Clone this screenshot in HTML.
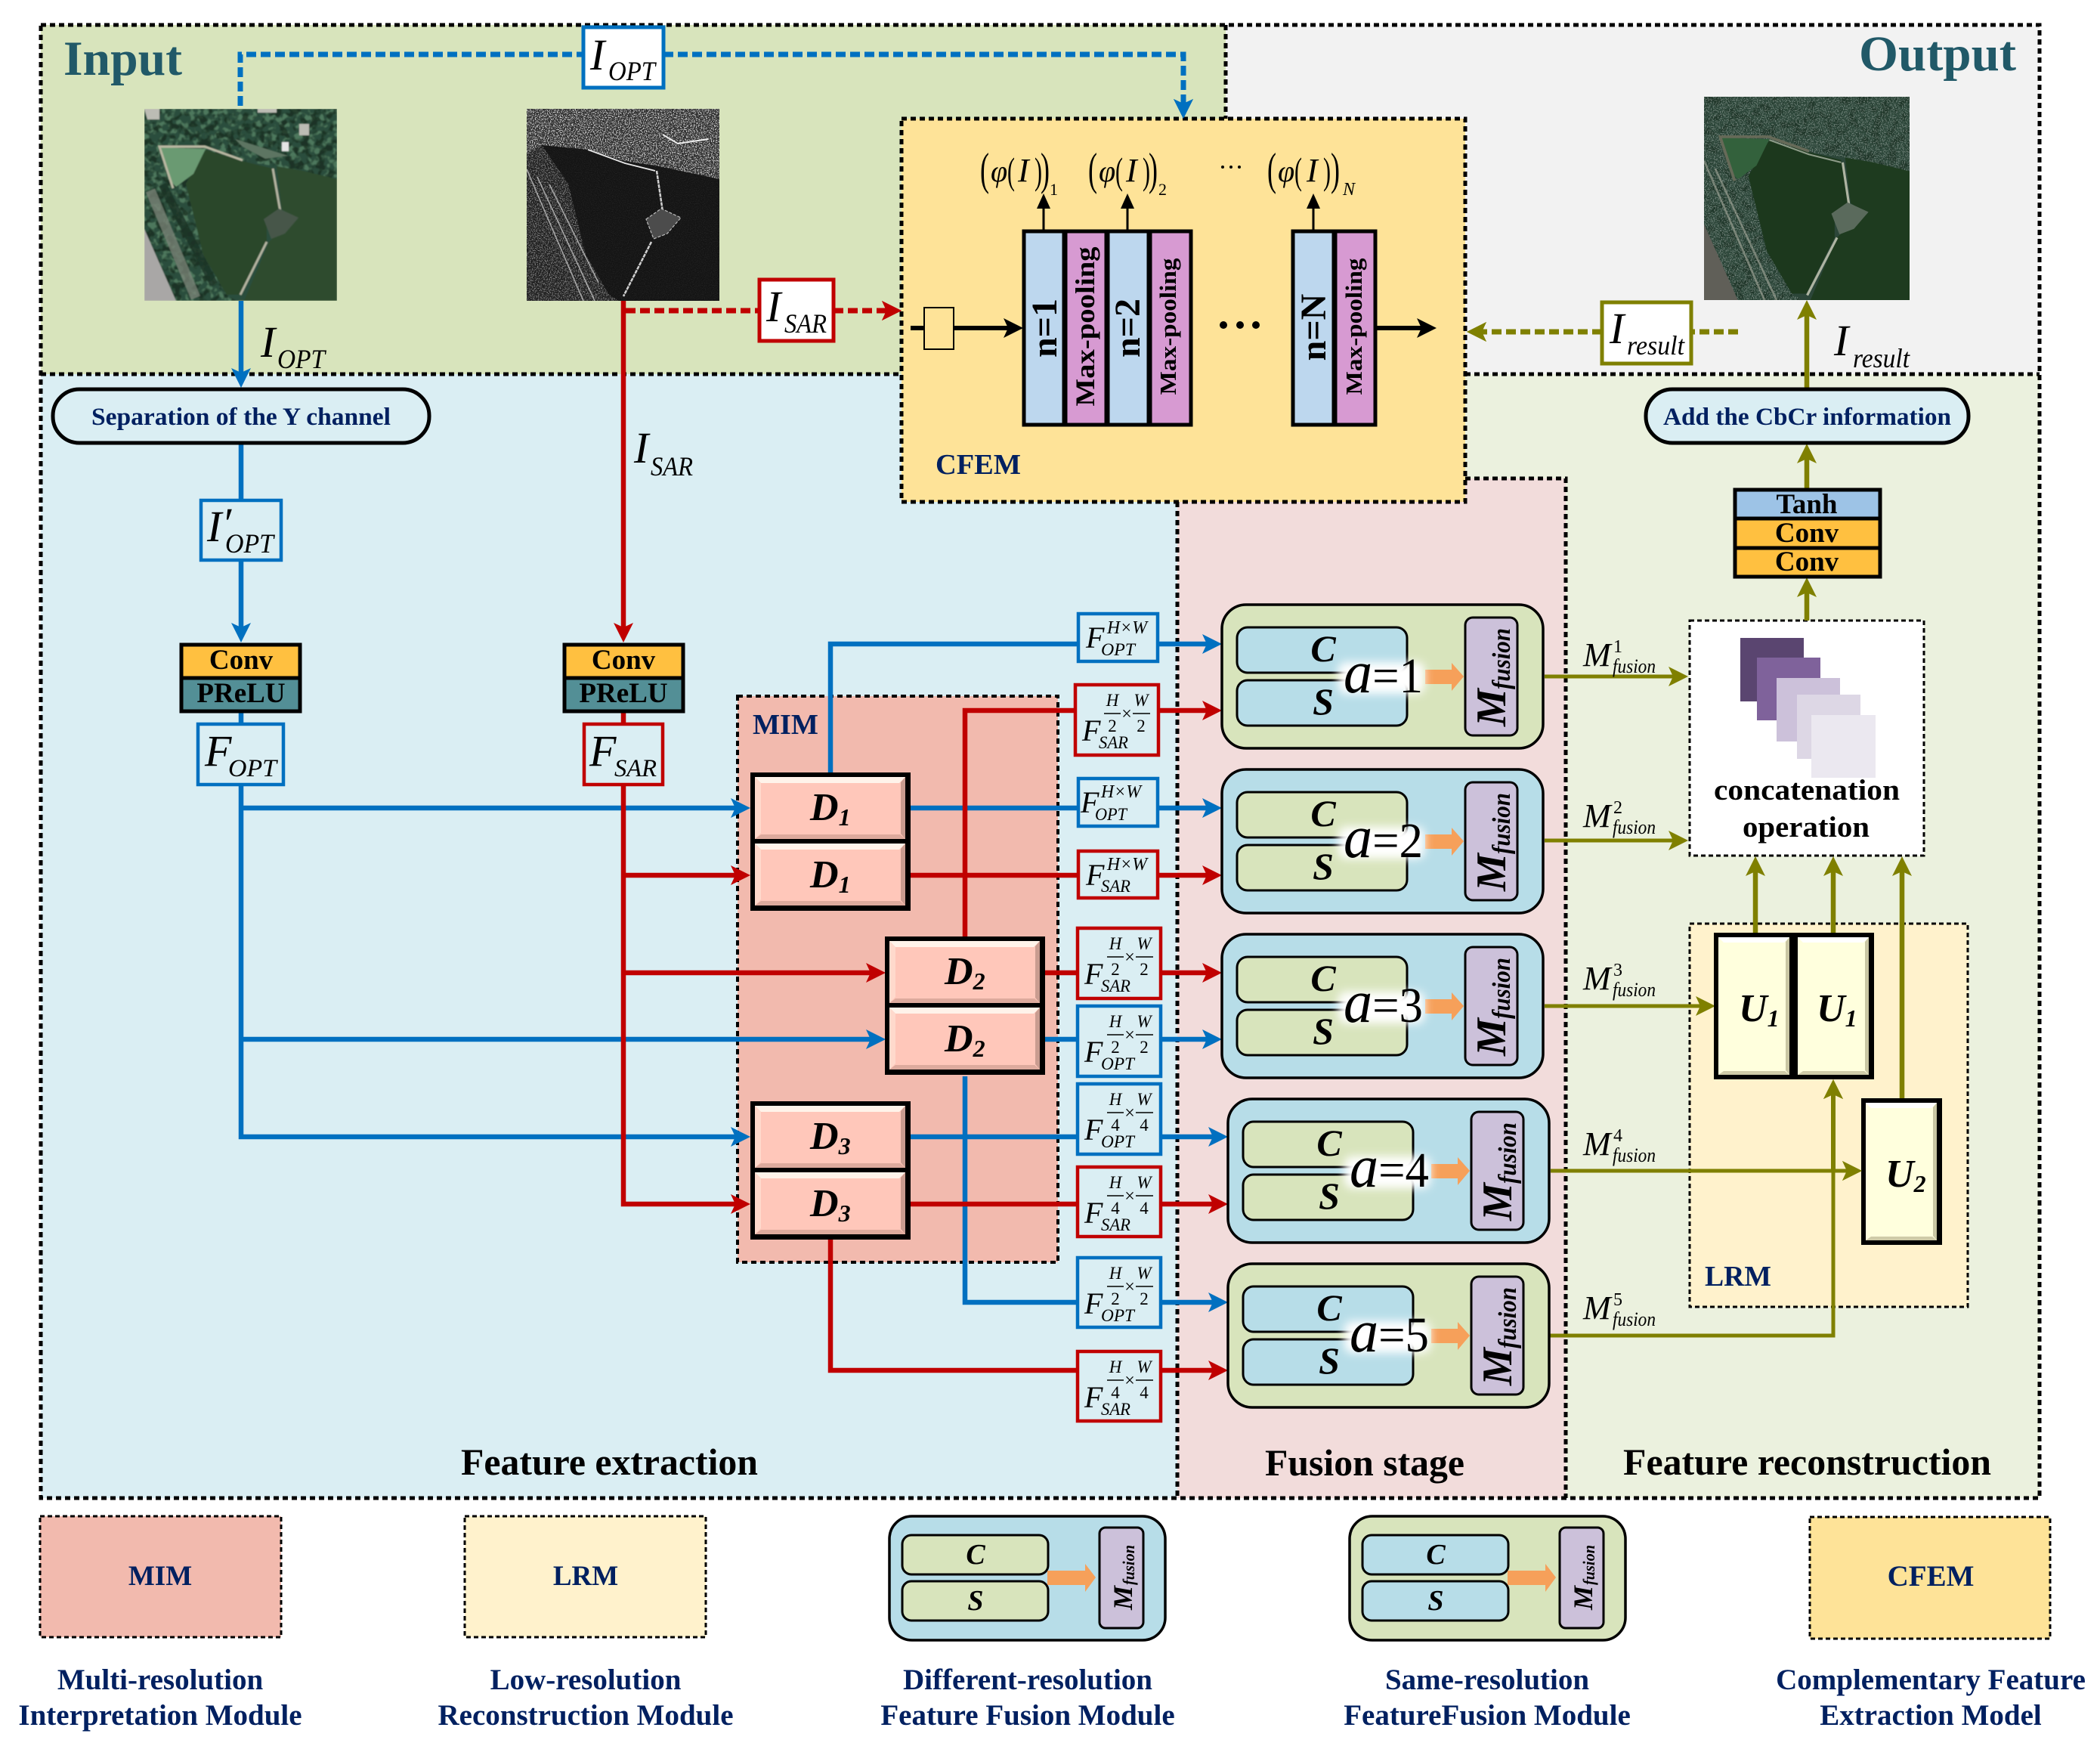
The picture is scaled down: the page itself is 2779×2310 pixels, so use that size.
<!DOCTYPE html>
<html lang="en"><head><meta charset="utf-8"><title>Network architecture</title>
<style>
html,body{margin:0;padding:0;background:#fff}
svg{display:block}
text{font-family:"Liberation Serif",serif;fill:#000}
.b{font-weight:bold}.i{font-style:italic}.bi{font-weight:bold;font-style:italic}
.n{fill:#002060;font-weight:bold}.t{fill:#215968;font-weight:bold}
.m{text-anchor:middle}
.bd{fill:none;stroke:#000;stroke-width:5;stroke-dasharray:7 5}
.thin{fill:none;stroke:#000;stroke-width:3;stroke-dasharray:6 4}
.bl{fill:none;stroke:#0070C0;stroke-width:6.5}
.rd{fill:none;stroke:#C00000;stroke-width:6.5}
.ol{fill:none;stroke:#7F8000;stroke-width:6.5}
.bk{fill:none;stroke:#000;stroke-width:6}
.fb{fill:#DAEEF3;stroke:#0070C0;stroke-width:4.5}
.fr{fill:#DAEEF3;stroke:#C00000;stroke-width:4.5}
.fl{stroke:#000;stroke-width:1.5;fill:none}
</style></head><body>
<svg xmlns="http://www.w3.org/2000/svg" width="2779" height="2310" viewBox="0 0 2779 2310">
<defs>
<path id="ah" d="M0 0L-26-13-20 0-26 13z"/>
<filter id="spk" x="0" y="0" width="1" height="1" color-interpolation-filters="sRGB"><feTurbulence type="fractalNoise" baseFrequency=".7" numOctaves="2" seed="3"/><feColorMatrix values="0 0 0 0 1 0 0 0 0 1 0 0 0 0 1 10 0 0 0 -5.2"/></filter>
<filter id="spd" x="0" y="0" width="1" height="1" color-interpolation-filters="sRGB"><feTurbulence type="fractalNoise" baseFrequency=".1" numOctaves="2" seed="8"/><feColorMatrix values="0 0 0 0 .08 0 0 0 0 .16 0 0 0 0 .11 7 0 0 0 -3.4"/></filter>
<filter id="spl" x="0" y="0" width="1" height="1" color-interpolation-filters="sRGB"><feTurbulence type="fractalNoise" baseFrequency=".12" numOctaves="2" seed="21"/><feColorMatrix values="0 0 0 0 .4 0 0 0 0 .58 0 0 0 0 .45 7 0 0 0 -3.5"/></filter>
<filter id="fin" x="0" y="0" width="1" height="1" color-interpolation-filters="sRGB"><feTurbulence type="fractalNoise" baseFrequency=".9" numOctaves="1" seed="5"/><feColorMatrix values="0 0 0 0 1 0 0 0 0 1 0 0 0 0 1 1.6 0 0 0 -.72"/></filter>
<filter id="glow" x="-30%" y="-60%" width="160%" height="220%"><feGaussianBlur stdDeviation="6"/></filter>
<filter id="soft" x="-2%" y="-2%" width="104%" height="104%"><feGaussianBlur stdDeviation=".9"/></filter>
<clipPath id="land"><path d="M0 0H255V93L175 76 129 69 81 54 55 99 78 193 109 246 122 254H0Z"/></clipPath>
<clipPath id="band"><path d="M0 0H255V93L175 76 129 69 81 54 20 48 0 60Z"/></clipPath>
<clipPath id="strip"><path d="M0 60L20 48 55 99 78 193 109 246 122 254H0Z"/></clipPath>
<path id="lakeL" d="M81 54L129 69 170 79 180 136 162 156 162 176 127 246 109 246 78 193 55 99Z"/>
<path id="lakeR" d="M175 76L210 82 255 93V254H132L165 176 182 159 203 146 182 133Z"/>
<g id="dbev">
<rect width="199" height="82" fill="#FFC7BA"/>
<path d="M0 0H199L191 8H8Z" fill="#FFF3EA"/><path d="M0 0L8 8V74L0 82Z" fill="#FFD9CC"/>
<path d="M199 0V82L193 75V7Z" fill="#C99C90"/><path d="M0 82H199L192 76H8Z" fill="#DDAA9D"/>
</g>
<g id="D"><rect width="212" height="183" fill="#000"/><use href="#dbev" x="6" y="6"/><use href="#dbev" x="6" y="94"/></g>
<g id="U"><rect width="107" height="194" fill="#000"/><rect x="6" y="6" width="94" height="182" fill="#FFFFDD"/>
<path d="M6 6H100L93 13H13Z" fill="#fff"/><path d="M100 6V188L95 182V12Z" fill="#C9C6A3"/><path d="M6 188H100L94 183H13Z" fill="#CFCBA8"/></g>
</defs>

<!-- regions -->
<rect x="54" y="33" width="1568" height="462" fill="#D8E4BC"/>
<rect x="1622" y="33" width="1077" height="462" fill="#F2F2F2"/>
<rect x="54" y="495" width="1504" height="1487" fill="#DAEEF3"/>
<rect x="1558" y="633" width="514" height="1349" fill="#F2DCDB"/>
<path d="M1939 495H2699V1982H2072V633H1939Z" fill="#EBF1DE"/>
<rect x="976" y="921" width="424" height="749" fill="#F2BAAE"/>
<rect x="2236" y="1222" width="369" height="507" fill="#FFF2CC"/>
<rect x="2236" y="821" width="310" height="311" fill="#fff"/>
<path class="bd" d="M54 33H2699V1982H54Z"/>
<path class="bd" d="M54 495H1193M1939 495H2699M1622 33V157M1558 664V1982M1939 633H2072V1982"/>
<text class="t" x="84" y="99" font-size="65" textLength="157" lengthAdjust="spacingAndGlyphs">Input</text>
<text class="t" x="2460" y="93" font-size="66" textLength="208" lengthAdjust="spacingAndGlyphs">Output</text>

<!-- optical image -->
<svg x="191" y="144" width="255" height="254" viewBox="0 0 255 254" preserveAspectRatio="none">
<g filter="url(#soft)">
<rect width="255" height="254" fill="#2c4e3c"/>
<rect width="255" height="254" filter="url(#spl)" opacity=".6" clip-path="url(#land)"/>
<rect width="255" height="254" filter="url(#spd)" opacity=".7" clip-path="url(#land)"/>
<path d="M8 108L68 250" stroke="#7d8679" stroke-width="13" fill="none" opacity=".75"/>
<path d="M24 100L92 232" stroke="#1d3326" stroke-width="11" fill="none" opacity=".8"/>
<path d="M0 159L42 254H0Z" fill="#a9a7a6"/>
<use href="#lakeL" fill="#29462a"/><use href="#lakeR" fill="#2d4c2d"/>
<path d="M22 51L81 53 65 86 42 103 32 93Z" fill="#6a9a72"/>
<path d="M38 105L20 50 80 50 130 68" fill="none" stroke="#b9b8a2" stroke-width="3"/>
<path d="M170 79L180 136M162 176L127 246" fill="none" stroke="#b3b4a0" stroke-width="3"/>
<path d="M158 146L178 132 204 144 186 165 168 172Z" fill="#46564a"/>
<path d="M0 0H20V14H4ZM205 20H218V35H205ZM150 0H175V5H150Z" fill="#bcbcb4"/>
<rect x="182" y="44" width="9" height="12" fill="#e5e5e5"/>
<path d="M120 40L190 62 160 66 130 50Z" fill="#5d7562"/>
</g>
</svg>

<!-- SAR image -->
<svg x="697" y="144" width="255" height="254" viewBox="0 0 255 254" preserveAspectRatio="none">
<rect width="255" height="254" fill="#141414"/>
<g clip-path="url(#band)"><rect width="255" height="254" fill="#2e2e2e"/><rect width="255" height="254" filter="url(#spk)" opacity=".75"/></g>
<g clip-path="url(#strip)"><rect width="255" height="254" fill="#1e1e1e"/><rect width="255" height="254" filter="url(#spk)" opacity=".4"/></g>
<rect width="255" height="254" filter="url(#fin)" opacity=".14"/>
<path d="M0 80L75 254M14 90L90 254M30 100L75 190 95 230" fill="none" stroke="#c9c9c9" stroke-width="1.6" opacity=".75"/>
<path d="M81 54L130 72 170 82" fill="none" stroke="#e8e8e8" stroke-width="1.8"/>
<path d="M172 82L180 136M165 176L128 248" fill="none" stroke="#cfcfcf" stroke-width="2.5" stroke-dasharray="5 1"/>
<path d="M158 146L178 132 204 144 186 165 168 172Z" fill="#4c4c4c" stroke="#bbb" stroke-width="1.2" stroke-dasharray="4 2"/>
<path d="M180 34L200 46 240 40" fill="none" stroke="#eee" stroke-width="2"/>
</svg>

<!-- output image -->
<svg x="2255" y="128" width="272" height="269" viewBox="0 0 255 254" preserveAspectRatio="none">
<rect width="255" height="254" fill="#2c4639"/>
<g clip-path="url(#land)"><rect width="255" height="254" filter="url(#spd)" opacity=".5"/><rect width="255" height="254" filter="url(#spk)" opacity=".3"/></g>
<path d="M0 159L42 254H0Z" fill="#605f58"/>
<use href="#lakeL" fill="#1c381d"/><use href="#lakeR" fill="#1e3b1f"/>
<path d="M22 51L81 53 65 86 42 103 32 93Z" fill="#33613c"/>
<path d="M38 105L20 50 80 50 130 68" fill="none" stroke="#666a58" stroke-width="3.5"/>
<path d="M81 54L130 72 170 82" fill="none" stroke="#8d9b88" stroke-width="2"/>
<path d="M0 80L75 254M14 90L90 254" fill="none" stroke="#a7aa9c" stroke-width="2.5" opacity=".6"/>
<path d="M172 82L180 136M165 176L128 248" fill="none" stroke="#aeb4a2" stroke-width="3"/>
<path d="M158 146L178 132 204 144 186 165 168 172Z" fill="#5a6a5c"/>
</svg>

<!-- MIM / LRM / concat dashed -->
<rect class="bd" x="976" y="921" width="424" height="749" style="stroke-width:4"/>
<rect class="thin" x="2236" y="1222" width="368" height="507"/>
<rect class="thin" x="2236" y="821" width="310" height="311"/>
<text class="n" x="996" y="971" font-size="38" textLength="87" lengthAdjust="spacingAndGlyphs">MIM</text>
<text class="n" x="2256" y="1701" font-size="38" textLength="88" lengthAdjust="spacingAndGlyphs">LRM</text>

<!-- blue connectors -->
<path class="bl" d="M319 398V495M319 586V662M319 741V830M319 943V957M319 1039V1504H975M319 1069H975M319 1375H1155"/>
<path class="bl" d="M1099 1022V852H1428M1532 852H1600M1204 1069H1428M1532 1069H1600M1382 1375H1426M1536 1375H1600M1204 1504H1426M1536 1504H1608M1277 1424V1723H1426M1536 1723H1608"/>
<path class="bl" style="stroke-width:7" stroke-dasharray="13 6" d="M318 140V72H772M878 72H1566V138"/>
<g fill="#0070C0">
<use href="#ah" transform="translate(319,513)rotate(90)"/><use href="#ah" transform="translate(319,850)rotate(90)"/>
<use href="#ah" transform="translate(1566,157)rotate(90)"/>
<use href="#ah" transform="translate(993,1069)"/><use href="#ah" transform="translate(1172,1375)"/><use href="#ah" transform="translate(993,1504)"/>
<use href="#ah" transform="translate(1617,852)"/><use href="#ah" transform="translate(1617,1069)"/><use href="#ah" transform="translate(1617,1375)"/>
<use href="#ah" transform="translate(1625,1504)"/><use href="#ah" transform="translate(1625,1723)"/>
</g>
<!-- red connectors -->
<path class="rd" d="M825 398V830M825 943V957M825 1039V1593H975M825 1158H975M825 1287H1155"/>
<path class="rd" d="M1277 1239V940H1422M1533 940H1600M1204 1158H1428M1532 1158H1600M1382 1287H1426M1536 1287H1600M1204 1593H1426M1536 1593H1608M1099 1640V1813H1426M1536 1813H1608"/>
<path class="rd" style="stroke-width:7" stroke-dasharray="13 6" d="M828 411H1005M1103 411H1175"/>
<g fill="#C00000">
<use href="#ah" transform="translate(825,850)rotate(90)"/><use href="#ah" transform="translate(1193,411)"/>
<use href="#ah" transform="translate(993,1158)"/><use href="#ah" transform="translate(1172,1287)"/><use href="#ah" transform="translate(993,1593)"/>
<use href="#ah" transform="translate(1617,940)"/><use href="#ah" transform="translate(1617,1158)"/><use href="#ah" transform="translate(1617,1287)"/>
<use href="#ah" transform="translate(1625,1593)"/><use href="#ah" transform="translate(1625,1813)"/>
</g>
<!-- olive connectors -->
<path class="ol" d="M2391 513V415M2391 647V605M2391 821V780M2323 1234V1150M2426 1234V1150M2517 1453V1150"/>
<path class="ol" style="stroke-width:5" d="M2044 895H2215M2044 1112H2215M2044 1331H2250M2052 1549H2445M2050 1767H2426V1445"/>
<path class="ol" style="stroke-width:7" stroke-dasharray="13 6" d="M2300 439H2238M2120 439H1960"/>
<g fill="#7F8000">
<use href="#ah" transform="translate(2391,397)rotate(-90)"/><use href="#ah" transform="translate(2391,587)rotate(-90)"/><use href="#ah" transform="translate(2391,764)rotate(-90)"/>
<use href="#ah" transform="translate(2323,1133)rotate(-90)"/><use href="#ah" transform="translate(2426,1133)rotate(-90)"/><use href="#ah" transform="translate(2517,1133)rotate(-90)"/>
<use href="#ah" transform="translate(2426,1428)rotate(-90)"/>
<use href="#ah" transform="translate(2234,895)"/><use href="#ah" transform="translate(2234,1112)"/><use href="#ah" transform="translate(2270,1331)"/><use href="#ah" transform="translate(2464,1549)"/>
<use href="#ah" transform="translate(1941,439)rotate(180)"/>
</g>

<!-- CFEM -->
<rect x="1193" y="157" width="746" height="507" fill="#FEE398"/>
<rect class="bd" x="1193" y="157" width="746" height="507"/>
<use href="#ah" fill="#0070C0" transform="translate(1566,157)rotate(90)"/>
<use href="#ah" fill="#C00000" transform="translate(1193,411)"/>
<use href="#ah" fill="#7F8000" transform="translate(1941,439)rotate(180)"/>
<text class="n" x="1238" y="627" font-size="38" textLength="113" lengthAdjust="spacingAndGlyphs">CFEM</text>
<path class="bk" d="M1205 434H1338M1821 434H1885"/>
<rect x="1223" y="407" width="39" height="55" fill="#FEE398" stroke="#000" stroke-width="2"/>
<g fill="#000"><use href="#ah" transform="translate(1354,434)"/><use href="#ah" transform="translate(1901,434)"/></g>
<g stroke="#000" stroke-width="3"><path d="M1381 304V270M1492 304V270M1738 304V270"/></g>
<path d="M1381 256l-9 20h18zM1492 256l-9 20h18zM1738 256l-9 20h18z"/>
<g stroke="#000" stroke-width="5">
<rect x="1355" y="306" width="53" height="256" fill="#BDD7EE"/><rect x="1410" y="306" width="54" height="256" fill="#D79AD2"/>
<rect x="1466" y="306" width="54" height="256" fill="#BDD7EE"/><rect x="1522" y="306" width="54" height="256" fill="#D79AD2"/>
<rect x="1711" y="306" width="54" height="256" fill="#BDD7EE"/><rect x="1767" y="306" width="53" height="256" fill="#D79AD2"/>
</g>
<text class="b m" transform="translate(1398,434)rotate(-90)" font-size="48">n=1</text>
<text class="b m" transform="translate(1508,434)rotate(-90)" font-size="48">n=2</text>
<text class="b m" transform="translate(1754,433)rotate(-90)" font-size="48">n=N</text>
<text class="b m" transform="translate(1448,432)rotate(-90)" font-size="36" textLength="211" lengthAdjust="spacingAndGlyphs">Max-pooling</text>
<text class="b m" transform="translate(1556,432)rotate(-90)" font-size="31" textLength="181" lengthAdjust="spacingAndGlyphs">Max-pooling</text>
<text class="b m" transform="translate(1802,432)rotate(-90)" font-size="31" textLength="181" lengthAdjust="spacingAndGlyphs">Max-pooling</text>
<circle cx="1619" cy="430" r="5"/><circle cx="1641" cy="430" r="5"/><circle cx="1662" cy="430" r="5"/>
<circle cx="1618" cy="221" r="2"/><circle cx="1629" cy="221" r="2"/><circle cx="1640" cy="221" r="2"/>
<g transform="translate(1297,0)"><text transform="translate(0,244)scale(.6,1)" font-size="60">(</text><text class="i" x="14" y="240" font-size="40">φ</text><text transform="translate(36,243)scale(.6,1)" font-size="50">(</text><text class="i" x="50" y="240" font-size="44">I</text><text transform="translate(72,243)scale(.6,1)" font-size="50">)</text><text transform="translate(80,244)scale(.6,1)" font-size="60">)</text><text x="92" y="258" font-size="22">1</text></g>
<g transform="translate(1440,0)"><text transform="translate(0,244)scale(.6,1)" font-size="60">(</text><text class="i" x="14" y="240" font-size="40">φ</text><text transform="translate(36,243)scale(.6,1)" font-size="50">(</text><text class="i" x="50" y="240" font-size="44">I</text><text transform="translate(72,243)scale(.6,1)" font-size="50">)</text><text transform="translate(80,244)scale(.6,1)" font-size="60">)</text><text x="93" y="258" font-size="22">2</text></g>
<g transform="translate(1677,0)"><text transform="translate(0,244)scale(.6,1)" font-size="60">(</text><text class="i" x="14" y="240" font-size="40">φ</text><text transform="translate(36,243)scale(.6,1)" font-size="50">(</text><text class="i" x="52" y="240" font-size="44">I</text><text transform="translate(74,243)scale(.6,1)" font-size="50">)</text><text transform="translate(84,244)scale(.6,1)" font-size="60">)</text><text class="i" x="100" y="258" font-size="24">N</text></g>

<!-- I labels -->
<rect x="772" y="36" width="106" height="80" fill="#fff" stroke="#0070C0" stroke-width="5"/>
<text class="i" x="781" y="92" font-size="58">I</text><text class="i" x="805" y="106" font-size="36" textLength="62" lengthAdjust="spacingAndGlyphs">OPT</text>
<text class="i" x="345" y="472" font-size="58">I</text><text class="i" x="367" y="487" font-size="36" textLength="63" lengthAdjust="spacingAndGlyphs">OPT</text>
<text class="i" x="839" y="612" font-size="58">I</text><text class="i" x="861" y="629" font-size="36" textLength="56" lengthAdjust="spacingAndGlyphs">SAR</text>
<rect x="1005" y="370" width="98" height="81" fill="#fff" stroke="#C00000" stroke-width="5"/>
<text class="i" x="1014" y="425" font-size="58">I</text><text class="i" x="1038" y="440" font-size="36" textLength="56" lengthAdjust="spacingAndGlyphs">SAR</text>
<rect x="2120" y="400" width="118" height="81" fill="#fff" stroke="#7F8000" stroke-width="5"/>
<text class="i" x="2130" y="454" font-size="58">I</text><text class="i" x="2153" y="469" font-size="36" textLength="76" lengthAdjust="spacingAndGlyphs">result</text>
<text class="i" x="2427" y="470" font-size="58">I</text><text class="i" x="2452" y="486" font-size="36" textLength="75" lengthAdjust="spacingAndGlyphs">result</text>
<rect x="266" y="662" width="106" height="79" fill="#DAEEF3" stroke="#0070C0" stroke-width="4.5"/>
<text class="i" x="274" y="716" font-size="58">I</text><text x="297" y="712" font-size="58">′</text><text class="i" x="298" y="731" font-size="36" textLength="64" lengthAdjust="spacingAndGlyphs">OPT</text>

<!-- pills -->
<rect x="70" y="515" width="498" height="71" rx="35" fill="#DAEEF3" stroke="#000" stroke-width="5"/>
<text class="n" x="121" y="562" font-size="33" textLength="396" lengthAdjust="spacingAndGlyphs">Separation of the Y channel</text>
<rect x="2178" y="515" width="427" height="71" rx="35" fill="#DAEEF3" stroke="#000" stroke-width="5"/>
<text class="n" x="2201" y="562" font-size="33" textLength="381" lengthAdjust="spacingAndGlyphs">Add the CbCr information</text>

<!-- Conv stacks -->
<g stroke="#000" stroke-width="5"><rect x="240" y="853" width="157" height="44" fill="#FFC040"/><rect x="240" y="897" width="157" height="44" fill="#538F96"/>
<rect x="747" y="853" width="157" height="44" fill="#FFC040"/><rect x="747" y="897" width="157" height="44" fill="#538F96"/>
<rect x="2296" y="648" width="192" height="38" fill="#9DC3E6"/><rect x="2296" y="686" width="192" height="39" fill="#FFC040"/><rect x="2296" y="725" width="192" height="38" fill="#FFC040"/></g>
<text class="b m" x="319" y="885" font-size="37">Conv</text><text class="b m" x="319" y="929" font-size="37">PReLU</text>
<text class="b m" x="825" y="885" font-size="37">Conv</text><text class="b m" x="825" y="929" font-size="37">PReLU</text>
<text class="b m" x="2391" y="679" font-size="37">Tanh</text><text class="b m" x="2391" y="717" font-size="37">Conv</text><text class="b m" x="2391" y="755" font-size="37">Conv</text>

<!-- F_OPT / F_SAR -->
<rect x="262" y="958" width="113" height="80" class="fb"/>
<text class="i" x="271" y="1013" font-size="58">F</text><text class="i" x="302" y="1027" font-size="33" textLength="64" lengthAdjust="spacingAndGlyphs">OPT</text>
<rect x="773" y="958" width="104" height="80" class="fr"/>
<text class="i" x="780" y="1013" font-size="58">F</text><text class="i" x="813" y="1027" font-size="33" textLength="56" lengthAdjust="spacingAndGlyphs">SAR</text>

<!-- D blocks -->
<use href="#D" x="993" y="1022"/><use href="#D" x="1171" y="1239"/><use href="#D" x="993" y="1457"/>
<text class="bi" x="1072" y="1085" font-size="52">D<tspan font-size="32" dy="7">1</tspan></text>
<text class="bi" x="1072" y="1174" font-size="52">D<tspan font-size="32" dy="7">1</tspan></text>
<text class="bi" x="1250" y="1302" font-size="52">D<tspan font-size="32" dy="7">2</tspan></text>
<text class="bi" x="1250" y="1391" font-size="52">D<tspan font-size="32" dy="7">2</tspan></text>
<text class="bi" x="1072" y="1520" font-size="52">D<tspan font-size="32" dy="7">3</tspan></text>
<text class="bi" x="1072" y="1609" font-size="52">D<tspan font-size="32" dy="7">3</tspan></text>

<!-- F boxes simple -->
<g transform="translate(1427,812)"><rect width="105" height="63" class="fb"/><text class="i" x="10" y="45" font-size="40">F</text><text class="i" x="38" y="26" font-size="24" textLength="53" lengthAdjust="spacingAndGlyphs">H×W</text><text class="i" x="30" y="55" font-size="23" textLength="45" lengthAdjust="spacingAndGlyphs">OPT</text></g>
<g transform="translate(1427,1030)"><rect width="105" height="63" class="fb"/><text class="i" x="3" y="45" font-size="40">F</text><text class="i" x="30" y="25" font-size="24" textLength="53" lengthAdjust="spacingAndGlyphs">H×W</text><text class="i" x="22" y="55" font-size="23" textLength="42" lengthAdjust="spacingAndGlyphs">OPT</text></g>
<g transform="translate(1427,1126)"><rect width="105" height="62" class="fr"/><text class="i" x="10" y="45" font-size="40">F</text><text class="i" x="38" y="25" font-size="24" textLength="53" lengthAdjust="spacingAndGlyphs">H×W</text><text class="i" x="30" y="54" font-size="23" textLength="39" lengthAdjust="spacingAndGlyphs">SAR</text></g>
<!-- F boxes fraction -->
<g transform="translate(1423,906)"><rect width="110" height="93" class="fr"/><text class="i" x="9" y="74" font-size="40">F</text><text class="i" x="31" y="84" font-size="23" textLength="39" lengthAdjust="spacingAndGlyphs">SAR</text><text class="i m" x="49" y="28" font-size="23">H</text><text class="i m" x="87" y="28" font-size="23">W</text><text class="m" x="49" y="62" font-size="23">2</text><text class="m" x="87" y="62" font-size="23">2</text><text class="m" x="68" y="46" font-size="24">×</text><path class="fl" d="M38 38H60M76 38H99"/></g>
<g transform="translate(1426,1228)"><rect width="110" height="93" class="fr"/><text class="i" x="9" y="74" font-size="40">F</text><text class="i" x="31" y="84" font-size="23" textLength="39" lengthAdjust="spacingAndGlyphs">SAR</text><text class="i m" x="50" y="28" font-size="23">H</text><text class="i m" x="88" y="28" font-size="23">W</text><text class="m" x="50" y="62" font-size="23">2</text><text class="m" x="88" y="62" font-size="23">2</text><text class="m" x="69" y="46" font-size="24">×</text><path class="fl" d="M39 38H61M77 38H100"/></g>
<g transform="translate(1426,1331)"><rect width="110" height="93" class="fb"/><text class="i" x="9" y="74" font-size="40">F</text><text class="i" x="31" y="84" font-size="23" textLength="44" lengthAdjust="spacingAndGlyphs">OPT</text><text class="i m" x="50" y="28" font-size="23">H</text><text class="i m" x="88" y="28" font-size="23">W</text><text class="m" x="50" y="62" font-size="23">2</text><text class="m" x="88" y="62" font-size="23">2</text><text class="m" x="69" y="46" font-size="24">×</text><path class="fl" d="M39 38H61M77 38H100"/></g>
<g transform="translate(1426,1434)"><rect width="110" height="93" class="fb"/><text class="i" x="9" y="74" font-size="40">F</text><text class="i" x="31" y="84" font-size="23" textLength="44" lengthAdjust="spacingAndGlyphs">OPT</text><text class="i m" x="50" y="28" font-size="23">H</text><text class="i m" x="88" y="28" font-size="23">W</text><text class="m" x="50" y="62" font-size="23">4</text><text class="m" x="88" y="62" font-size="23">4</text><text class="m" x="69" y="46" font-size="24">×</text><path class="fl" d="M39 38H61M77 38H100"/></g>
<g transform="translate(1426,1544)"><rect width="110" height="92" class="fr"/><text class="i" x="9" y="74" font-size="40">F</text><text class="i" x="31" y="84" font-size="23" textLength="39" lengthAdjust="spacingAndGlyphs">SAR</text><text class="i m" x="50" y="28" font-size="23">H</text><text class="i m" x="88" y="28" font-size="23">W</text><text class="m" x="50" y="62" font-size="23">4</text><text class="m" x="88" y="62" font-size="23">4</text><text class="m" x="69" y="46" font-size="24">×</text><path class="fl" d="M39 38H61M77 38H100"/></g>
<g transform="translate(1426,1664)"><rect width="110" height="92" class="fb"/><text class="i" x="9" y="74" font-size="40">F</text><text class="i" x="31" y="84" font-size="23" textLength="44" lengthAdjust="spacingAndGlyphs">OPT</text><text class="i m" x="50" y="28" font-size="23">H</text><text class="i m" x="88" y="28" font-size="23">W</text><text class="m" x="50" y="62" font-size="23">2</text><text class="m" x="88" y="62" font-size="23">2</text><text class="m" x="69" y="46" font-size="24">×</text><path class="fl" d="M39 38H61M77 38H100"/></g>
<g transform="translate(1426,1788)"><rect width="110" height="92" class="fr"/><text class="i" x="9" y="74" font-size="40">F</text><text class="i" x="31" y="84" font-size="23" textLength="39" lengthAdjust="spacingAndGlyphs">SAR</text><text class="i m" x="50" y="28" font-size="23">H</text><text class="i m" x="88" y="28" font-size="23">W</text><text class="m" x="50" y="62" font-size="23">4</text><text class="m" x="88" y="62" font-size="23">4</text><text class="m" x="69" y="46" font-size="24">×</text><path class="fl" d="M39 38H61M77 38H100"/></g>

<!-- Fusion modules -->
<g transform="translate(1617,800)"><rect width="425" height="190" rx="32" fill="#D8E4BC" stroke="#000" stroke-width="3.5"/><rect x="20" y="30" width="225" height="60" rx="14" fill="#B7DDE8" stroke="#000" stroke-width="3"/><rect x="20" y="100" width="225" height="60" rx="14" fill="#B7DDE8" stroke="#000" stroke-width="3"/><rect x="322" y="17" width="69" height="156" rx="10" fill="#CCC1DA" stroke="#000" stroke-width="3"/><path d="M269 86H304V77L320 95 304 114V105H269Z" fill="#F6A05A"/><rect x="154" y="76" width="114" height="42" rx="10" fill="#fff" filter="url(#glow)"/><text class="bi m" x="134" y="75" font-size="50">C</text><text class="bi m" x="134" y="145" font-size="50">S</text><text x="161" y="116" font-size="66" textLength="105" lengthAdjust="spacingAndGlyphs"><tspan class="i" font-size="80">a</tspan>=1</text><text class="bi" transform="translate(375,161)rotate(-90)" font-size="56">M</text><text class="bi" transform="translate(381,112)rotate(-90)" font-size="34" textLength="81" lengthAdjust="spacingAndGlyphs">fusion</text></g>
<g transform="translate(1617,1018)"><rect width="425" height="190" rx="32" fill="#B7DDE8" stroke="#000" stroke-width="3.5"/><rect x="20" y="30" width="225" height="60" rx="14" fill="#D8E4BC" stroke="#000" stroke-width="3"/><rect x="20" y="100" width="225" height="60" rx="14" fill="#D8E4BC" stroke="#000" stroke-width="3"/><rect x="322" y="17" width="69" height="156" rx="10" fill="#CCC1DA" stroke="#000" stroke-width="3"/><path d="M269 86H304V77L320 95 304 114V105H269Z" fill="#F6A05A"/><rect x="154" y="76" width="114" height="42" rx="10" fill="#fff" filter="url(#glow)"/><text class="bi m" x="134" y="75" font-size="50">C</text><text class="bi m" x="134" y="145" font-size="50">S</text><text x="161" y="116" font-size="66" textLength="105" lengthAdjust="spacingAndGlyphs"><tspan class="i" font-size="80">a</tspan>=2</text><text class="bi" transform="translate(375,161)rotate(-90)" font-size="56">M</text><text class="bi" transform="translate(381,112)rotate(-90)" font-size="34" textLength="81" lengthAdjust="spacingAndGlyphs">fusion</text></g>
<g transform="translate(1617,1236)"><rect width="425" height="190" rx="32" fill="#B7DDE8" stroke="#000" stroke-width="3.5"/><rect x="20" y="30" width="225" height="60" rx="14" fill="#D8E4BC" stroke="#000" stroke-width="3"/><rect x="20" y="100" width="225" height="60" rx="14" fill="#D8E4BC" stroke="#000" stroke-width="3"/><rect x="322" y="17" width="69" height="156" rx="10" fill="#CCC1DA" stroke="#000" stroke-width="3"/><path d="M269 86H304V77L320 95 304 114V105H269Z" fill="#F6A05A"/><rect x="154" y="76" width="114" height="42" rx="10" fill="#fff" filter="url(#glow)"/><text class="bi m" x="134" y="75" font-size="50">C</text><text class="bi m" x="134" y="145" font-size="50">S</text><text x="161" y="116" font-size="66" textLength="105" lengthAdjust="spacingAndGlyphs"><tspan class="i" font-size="80">a</tspan>=3</text><text class="bi" transform="translate(375,161)rotate(-90)" font-size="56">M</text><text class="bi" transform="translate(381,112)rotate(-90)" font-size="34" textLength="81" lengthAdjust="spacingAndGlyphs">fusion</text></g>
<g transform="translate(1625,1454)"><rect width="425" height="190" rx="32" fill="#B7DDE8" stroke="#000" stroke-width="3.5"/><rect x="20" y="30" width="225" height="60" rx="14" fill="#D8E4BC" stroke="#000" stroke-width="3"/><rect x="20" y="100" width="225" height="60" rx="14" fill="#D8E4BC" stroke="#000" stroke-width="3"/><rect x="322" y="17" width="69" height="156" rx="10" fill="#CCC1DA" stroke="#000" stroke-width="3"/><path d="M269 86H304V77L320 95 304 114V105H269Z" fill="#F6A05A"/><rect x="154" y="76" width="114" height="42" rx="10" fill="#fff" filter="url(#glow)"/><text class="bi m" x="134" y="75" font-size="50">C</text><text class="bi m" x="134" y="145" font-size="50">S</text><text x="161" y="116" font-size="66" textLength="105" lengthAdjust="spacingAndGlyphs"><tspan class="i" font-size="80">a</tspan>=4</text><text class="bi" transform="translate(375,161)rotate(-90)" font-size="56">M</text><text class="bi" transform="translate(381,112)rotate(-90)" font-size="34" textLength="81" lengthAdjust="spacingAndGlyphs">fusion</text></g>
<g transform="translate(1625,1672)"><rect width="425" height="190" rx="32" fill="#D8E4BC" stroke="#000" stroke-width="3.5"/><rect x="20" y="30" width="225" height="60" rx="14" fill="#B7DDE8" stroke="#000" stroke-width="3"/><rect x="20" y="100" width="225" height="60" rx="14" fill="#B7DDE8" stroke="#000" stroke-width="3"/><rect x="322" y="17" width="69" height="156" rx="10" fill="#CCC1DA" stroke="#000" stroke-width="3"/><path d="M269 86H304V77L320 95 304 114V105H269Z" fill="#F6A05A"/><rect x="154" y="76" width="114" height="42" rx="10" fill="#fff" filter="url(#glow)"/><text class="bi m" x="134" y="75" font-size="50">C</text><text class="bi m" x="134" y="145" font-size="50">S</text><text x="161" y="116" font-size="66" textLength="105" lengthAdjust="spacingAndGlyphs"><tspan class="i" font-size="80">a</tspan>=5</text><text class="bi" transform="translate(375,161)rotate(-90)" font-size="56">M</text><text class="bi" transform="translate(381,112)rotate(-90)" font-size="34" textLength="81" lengthAdjust="spacingAndGlyphs">fusion</text></g>

<!-- M labels -->
<text class="i" x="2095" y="881" font-size="44">M</text><text x="2135" y="863" font-size="24">1</text><text class="i" x="2134" y="890" font-size="26" textLength="57" lengthAdjust="spacingAndGlyphs">fusion</text>
<text class="i" x="2095" y="1094" font-size="44">M</text><text x="2135" y="1076" font-size="24">2</text><text class="i" x="2134" y="1103" font-size="26" textLength="57" lengthAdjust="spacingAndGlyphs">fusion</text>
<text class="i" x="2095" y="1309" font-size="44">M</text><text x="2135" y="1291" font-size="24">3</text><text class="i" x="2134" y="1318" font-size="26" textLength="57" lengthAdjust="spacingAndGlyphs">fusion</text>
<text class="i" x="2095" y="1528" font-size="44">M</text><text x="2135" y="1510" font-size="24">4</text><text class="i" x="2134" y="1537" font-size="26" textLength="57" lengthAdjust="spacingAndGlyphs">fusion</text>
<text class="i" x="2095" y="1745" font-size="44">M</text><text x="2135" y="1727" font-size="24">5</text><text class="i" x="2134" y="1754" font-size="26" textLength="57" lengthAdjust="spacingAndGlyphs">fusion</text>

<!-- concatenation -->
<rect x="2303" y="844" width="84" height="84" fill="#5A4570"/>
<rect x="2325" y="870" width="84" height="83" fill="#7F629B"/>
<rect x="2351" y="897" width="84" height="84" fill="#CCC1DA"/>
<rect x="2378" y="919" width="84" height="85" fill="#DDD7E5"/>
<rect x="2397" y="946" width="85" height="83" fill="#EBE8F0"/>
<text class="b" x="2268" y="1058" font-size="39" textLength="246" lengthAdjust="spacingAndGlyphs">concatenation</text>
<text class="b" x="2306" y="1107" font-size="39" textLength="168" lengthAdjust="spacingAndGlyphs">operation</text>

<!-- U blocks -->
<use href="#U" x="2268" y="1234"/><use href="#U" x="2373" y="1234"/><use href="#U" x="2463" y="1453"/>
<use href="#ah" fill="#7F8000" transform="translate(2426,1428)rotate(-90)"/>
<path stroke="#7F8000" stroke-width="6" d="M2426 1445V1550"/>
<use href="#ah" fill="#7F8000" transform="translate(2464,1549)"/>
<text class="bi" x="2301" y="1351" font-size="52">U<tspan font-size="32" dy="7">1</tspan></text>
<text class="bi" x="2404" y="1351" font-size="52">U<tspan font-size="32" dy="7">1</tspan></text>
<text class="bi" x="2495" y="1570" font-size="52">U<tspan font-size="32" dy="7">2</tspan></text>

<!-- section titles -->
<text class="b" x="610" y="1951" font-size="50" textLength="393" lengthAdjust="spacingAndGlyphs">Feature extraction</text>
<text class="b" x="1674" y="1952" font-size="50" textLength="264" lengthAdjust="spacingAndGlyphs">Fusion stage</text>
<text class="b" x="2148" y="1951" font-size="50" textLength="487" lengthAdjust="spacingAndGlyphs">Feature reconstruction</text>

<!-- legend -->
<rect x="53" y="2006" width="319" height="160" fill="#F2BAAE"/><rect class="thin" x="53" y="2006" width="319" height="160"/>
<text class="n m" x="212" y="2097" font-size="37">MIM</text>
<rect x="615" y="2006" width="319" height="160" fill="#FFF2CC"/><rect class="thin" x="615" y="2006" width="319" height="160"/>
<text class="n m" x="775" y="2097" font-size="37">LRM</text>
<rect x="2395" y="2007" width="318" height="161" fill="#FEE398"/><rect class="thin" x="2395" y="2007" width="318" height="161"/>
<text class="n m" x="2555" y="2098" font-size="39">CFEM</text>

<g transform="translate(1177,2006)"><rect width="365" height="164" rx="30" fill="#B7DDE8" stroke="#000" stroke-width="3.5"/><rect x="17" y="25" width="193" height="52" rx="12" fill="#D8E4BC" stroke="#000" stroke-width="3"/><rect x="17" y="86" width="193" height="52" rx="12" fill="#D8E4BC" stroke="#000" stroke-width="3"/><rect x="278" y="15" width="58" height="133" rx="8" fill="#CCC1DA" stroke="#000" stroke-width="3"/><path d="M209 72H259V63L273 81 259 100V91H209Z" fill="#F6A05A"/><text class="bi m" x="114" y="63" font-size="38">C</text><text class="bi m" x="114" y="124" font-size="38">S</text><text class="bi" transform="translate(321,124)rotate(-90)" font-size="36">M</text><text class="bi" transform="translate(324,91)rotate(-90)" font-size="22" textLength="53" lengthAdjust="spacingAndGlyphs">fusion</text></g>
<g transform="translate(1786,2006)"><rect width="365" height="164" rx="30" fill="#D8E4BC" stroke="#000" stroke-width="3.5"/><rect x="17" y="25" width="193" height="52" rx="12" fill="#B7DDE8" stroke="#000" stroke-width="3"/><rect x="17" y="86" width="193" height="52" rx="12" fill="#B7DDE8" stroke="#000" stroke-width="3"/><rect x="278" y="15" width="58" height="133" rx="8" fill="#CCC1DA" stroke="#000" stroke-width="3"/><path d="M209 72H259V63L273 81 259 100V91H209Z" fill="#F6A05A"/><text class="bi m" x="114" y="63" font-size="38">C</text><text class="bi m" x="114" y="124" font-size="38">S</text><text class="bi" transform="translate(321,124)rotate(-90)" font-size="36">M</text><text class="bi" transform="translate(324,91)rotate(-90)" font-size="22" textLength="53" lengthAdjust="spacingAndGlyphs">fusion</text></g>

<text class="n m" x="212" y="2235" font-size="39">Multi-resolution</text><text class="n m" x="212" y="2282" font-size="39">Interpretation Module</text>
<text class="n m" x="775" y="2235" font-size="39">Low-resolution</text><text class="n m" x="775" y="2282" font-size="39">Reconstruction Module</text>
<text class="n m" x="1360" y="2235" font-size="39">Different-resolution</text><text class="n m" x="1360" y="2282" font-size="39">Feature Fusion Module</text>
<text class="n m" x="1968" y="2235" font-size="39">Same-resolution</text><text class="n m" x="1968" y="2282" font-size="39">FeatureFusion Module</text>
<text class="n m" x="2555" y="2235" font-size="39">Complementary Feature</text><text class="n m" x="2555" y="2282" font-size="39">Extraction Model</text>
</svg>
</body></html>
